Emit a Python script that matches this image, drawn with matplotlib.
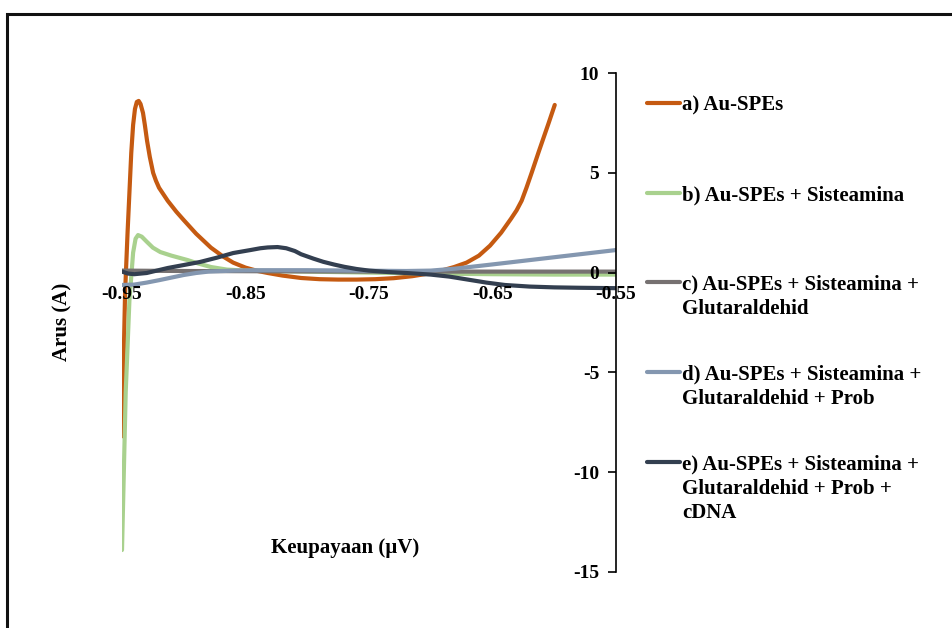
import matplotlib
matplotlib.use("Agg")
import matplotlib.pyplot as plt
from matplotlib.lines import Line2D
from matplotlib.patches import Rectangle

# ---- data ----
xa = [-0.95, -0.9475, -0.9455, -0.944, -0.9425, -0.941, -0.9395, -0.938, -0.9365, -0.935, -0.933,
      -0.9315, -0.9297, -0.9275, -0.9248, -0.9225, -0.92, -0.913, -0.906, -0.900, -0.890, -0.878,
      -0.868, -0.86, -0.85, -0.84, -0.832, -0.82, -0.805, -0.79, -0.775, -0.76, -0.745, -0.73,
      -0.715, -0.705, -0.697, -0.689, -0.681, -0.671, -0.661, -0.652, -0.643, -0.635, -0.6305,
      -0.6264, -0.6225, -0.6183, -0.6126, -0.6045, -0.5996]
ya = [-8.2, -1.0, 2.0, 4.0, 6.0, 7.4, 8.2, 8.55, 8.6, 8.45, 8.0,
      7.4, 6.6, 5.8, 5.0, 4.6, 4.25, 3.6, 3.05, 2.63, 1.95, 1.25,
      0.8, 0.5, 0.25, 0.08, -0.02, -0.15, -0.27, -0.33, -0.35, -0.35, -0.33, -0.28,
      -0.18, -0.08, 0.03, 0.14, 0.28, 0.5, 0.85, 1.35, 2.0, 2.7, 3.12,
      3.6, 4.25, 5.0, 6.05, 7.5, 8.4]

xb = [-0.95, -0.947, -0.944, -0.941, -0.939, -0.937, -0.934, -0.93, -0.925, -0.919, -0.91, -0.897,
      -0.888, -0.878, -0.865, -0.85, -0.80, -0.75, -0.70, -0.65, -0.60, -0.55]
yb = [-13.9, -6.0, -1.4, 1.0, 1.7, 1.88, 1.8, 1.55, 1.25, 1.03, 0.85, 0.63,
      0.45, 0.28, 0.15, 0.1, 0.05, 0.0, -0.05, -0.08, -0.1, -0.1]

xc = [-0.95, -0.90, -0.85, -0.80, -0.75, -0.70, -0.65, -0.60, -0.55]
yc = [0.1, 0.08, 0.07, 0.06, 0.05, 0.05, 0.05, 0.05, 0.05]

xd = [-0.95, -0.94, -0.93, -0.92, -0.91, -0.90, -0.89, -0.88, -0.86, -0.84, -0.80, -0.76, -0.72,
      -0.70, -0.68, -0.65, -0.60, -0.55]
yd = [-0.62, -0.6, -0.5, -0.38, -0.25, -0.12, -0.02, 0.05, 0.1, 0.12, 0.12, 0.1, 0.08,
      0.1, 0.2, 0.41, 0.77, 1.13]

xe = [-0.95, -0.945, -0.94, -0.93, -0.913, -0.90, -0.887, -0.873, -0.86, -0.846, -0.838, -0.832,
      -0.824, -0.817, -0.81, -0.805, -0.795, -0.787, -0.778, -0.77, -0.76, -0.75, -0.735, -0.72,
      -0.70, -0.685, -0.67, -0.655, -0.64, -0.62, -0.60, -0.58, -0.55]
ye = [0.05, -0.05, -0.08, -0.02, 0.23, 0.38, 0.53, 0.75, 0.98, 1.13, 1.22, 1.26,
      1.28, 1.22, 1.08, 0.92, 0.7, 0.54, 0.4, 0.29, 0.18, 0.1, 0.03, -0.02,
      -0.1, -0.2, -0.35, -0.5, -0.62, -0.7, -0.74, -0.76, -0.78]

labels = ["a) Au-SPEs",
          "b) Au-SPEs + Sisteamina",
          "c) Au-SPEs + Sisteamina +\nGlutaraldehid",
          "d) Au-SPEs + Sisteamina +\nGlutaraldehid + Prob",
          "e) Au-SPEs + Sisteamina +\nGlutaraldehid + Prob +\ncDNA"]
colors = ["#C55A11", "#A9D18E", "#767171", "#8497B0", "#333F50"]
xticks = [-0.95, -0.85, -0.75, -0.65, -0.55]
xticklabels = ["-0.95", "-0.85", "-0.75", "-0.65", "-0.55"]
yticks = [-15, -10, -5, 0, 5, 10]

series = [(xa, ya), (xb, yb), (xc, yc), (xd, yd), (xe, ye)]

plt.rcParams['font.family'] = ['Liberation Serif', 'DejaVu Serif']
plt.rcParams['font.weight'] = 'bold'
plt.rcParams['axes.unicode_minus'] = False

W, H = 952, 628
fig = plt.figure(figsize=(W / 100, H / 100), dpi=100)
ax = fig.add_axes([122 / W, 1 - 572 / H, (616 - 122) / W, (572 - 73) / H])

for (x, y), c in zip(series, colors):
    ax.plot(x, y, color=c, lw=3.0, solid_joinstyle='round', solid_capstyle='round')

ax.set_xlim(-0.95, -0.55)
ax.set_ylim(-15, 10)
ax.set_axisbelow(False)

ax.spines['top'].set_visible(False)
ax.spines['right'].set_visible(False)
ax.spines['left'].set_position(('data', -0.55))
ax.spines['bottom'].set_position(('data', 0))
ax.spines['bottom'].set_visible(False)
ax.spines['left'].set_linewidth(1.2)

ax.set_xticks(xticks)
ax.set_xticklabels(xticklabels)
ax.set_yticks(yticks)
ax.tick_params(axis='x', length=0, pad=10, labelsize=14)
ax.tick_params(axis='y', direction='out', length=6, width=1.2, pad=6, labelsize=14)
for t in ax.get_xticklabels() + ax.get_yticklabels():
    t.set_fontweight('bold')

fig.text(345 / W, 1 - 548 / H, "Keupayaan (µV)", ha='center', va='center', fontsize=15, fontweight='bold')
fig.text(62 / W, 1 - 322 / H, "Arus (A)", ha='center', va='center', rotation=90, fontsize=15, fontweight='bold')

# legend (manual)
handle_y = [103, 193, 282, 372, 462]
line_gap = 24.5
for lab, c, hy in zip(labels, colors, handle_y):
    fig.add_artist(Line2D([647 / W, 680 / W], [1 - hy / H, 1 - hy / H], color=c, lw=3.0,
                          solid_capstyle='round', transform=fig.transFigure))
    for i, line in enumerate(lab.split("\n")):
        fig.text(682 / W, 1 - (hy + 2 + i * line_gap) / H, line, ha='left', va='center',
                 fontsize=15, fontweight='bold')

# figure frame
fig.add_artist(Rectangle((7 / W, -0.05), 1.1, 1 - 14 / H + 0.05, transform=fig.transFigure,
                         fill=False, edgecolor='#111111', lw=2.2))

fig.savefig("out.png", dpi=100)
